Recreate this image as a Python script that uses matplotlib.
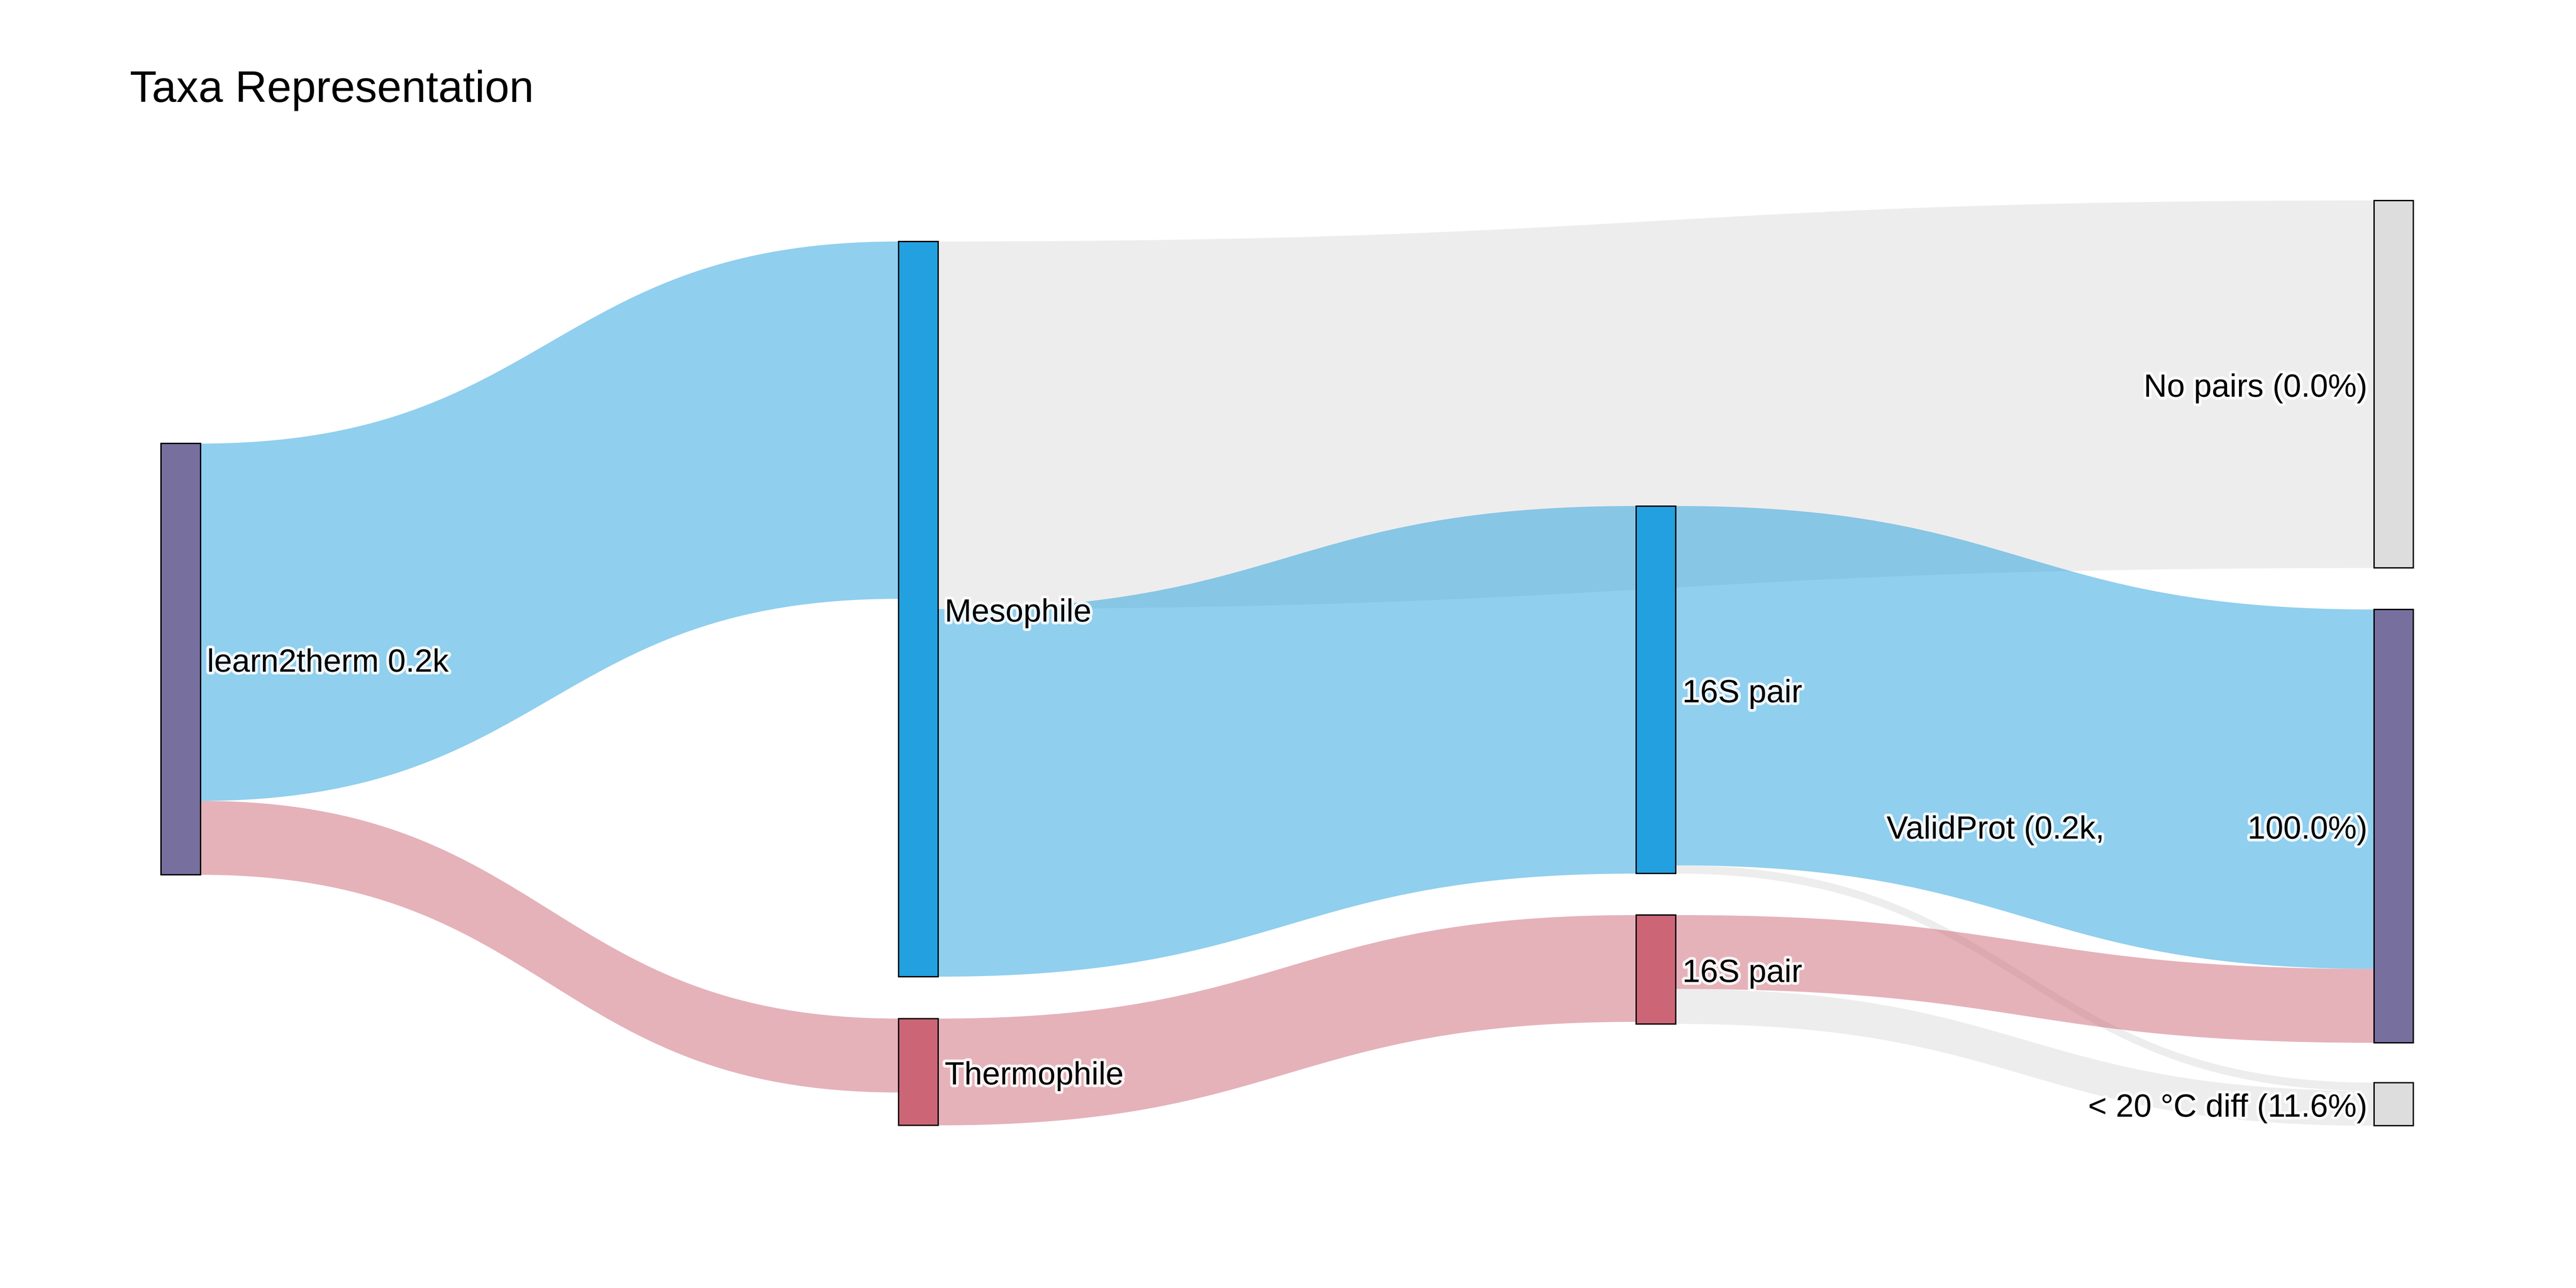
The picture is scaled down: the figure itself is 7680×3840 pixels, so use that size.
import numpy as np
import matplotlib
matplotlib.use("Agg")
import matplotlib.pyplot as plt
from matplotlib.path import Path
from matplotlib.patches import PathPatch, Rectangle
import matplotlib.patheffects as pe

plt.rcParams['font.family'] = ['Liberation Sans', 'DejaVu Sans']

# nodes
node_names = ["learn2therm", "Mesophile", "Thermophile", "16S pair (meso)", "16S pair (thermo)",
              "No pairs", "ValidProt", "< 20 °C diff"]
node_labels = ["learn2therm 0.2k", "Mesophile", "Thermophile", "16S pair", "16S pair",
               "No pairs (0.0%)", "100.0%)", "< 20 °C diff (11.6%)"]
node_colors = ["#77709f", "#22a0df", "#cc6677", "#22a0df", "#cc6677",
               "#dddddd", "#77709f", "#dddddd"]
node_column = [0, 1, 1, 2, 2, 3, 3, 3]

# links
link_source = [0, 0, 1, 1, 2, 3, 3, 4, 4]
link_target = [1, 2, 5, 3, 4, 6, 7, 6, 7]
link_value = [174, 36, 179, 179, 52, 175, 4, 36, 17]
link_colors = ["#22a0df", "#cc6677", "#dddddd", "#22a0df", "#cc6677",
               "#22a0df", "#dddddd", "#cc6677", "#dddddd"]

# layout (figure pixels of a 1568x784 canvas)
W, H = 1568, 784
col_x = [98, 547, 996, 1445]
node_w = 24
px_per_unit = 1.25
node_top = [270, 147, 620, 308, 557, 122, 371, 659]

n = len(node_names)
inflow = np.zeros(n)
outflow = np.zeros(n)
for s, t, v in zip(link_source, link_target, link_value):
    outflow[s] += v
    inflow[t] += v
node_h = np.maximum(inflow, outflow) * px_per_unit

fig = plt.figure(figsize=(16, 8), dpi=480)
ax = fig.add_axes([0, 0, 1, 1])
ax.set_xlim(0, W)
ax.set_ylim(H, 0)
ax.axis('off')

# links, stacked top-down at each node in link order
out_off = np.array(node_top, dtype=float)
in_off = np.array(node_top, dtype=float)
for s, t, v, c in zip(link_source, link_target, link_value, link_colors):
    w = v * px_per_unit
    x0 = col_x[node_column[s]] + node_w
    x1 = col_x[node_column[t]]
    xm = (x0 + x1) / 2
    y0t, y0b = out_off[s], out_off[s] + w
    y1t, y1b = in_off[t], in_off[t] + w
    out_off[s] += w
    in_off[t] += w
    verts = [(x0, y0t), (xm, y0t), (xm, y1t), (x1, y1t),
             (x1, y1b), (xm, y1b), (xm, y0b), (x0, y0b), (x0, y0t)]
    codes = [Path.MOVETO, Path.CURVE4, Path.CURVE4, Path.CURVE4,
             Path.LINETO, Path.CURVE4, Path.CURVE4, Path.CURVE4, Path.CLOSEPOLY]
    ax.add_patch(PathPatch(Path(verts, codes), facecolor=c, alpha=0.5, lw=0))

halo = [pe.withStroke(linewidth=2.5, foreground='white', alpha=0.85)]

# nodes and labels
for i in range(n):
    x = col_x[node_column[i]]
    ax.add_patch(Rectangle((x, node_top[i]), node_w, node_h[i],
                           facecolor=node_colors[i], edgecolor='black', lw=0.6))
    yc = node_top[i] + node_h[i] / 2 + 2.5
    if node_column[i] < 3:
        ax.text(x + node_w + 4, yc, node_labels[i], ha='left', va='center',
                fontsize=14.4, path_effects=halo)
    else:
        ax.text(x - 4, yc, node_labels[i], ha='right', va='center',
                fontsize=14.4, path_effects=halo)
        if node_names[i] == "ValidProt":
            ax.text(x - 164, yc, "ValidProt (0.2k,", ha='right', va='center',
                    fontsize=14.4, path_effects=halo)

fig.text(79 / W, 1 - 62 / H, "Taxa Representation", fontsize=19.7,
         ha='left', va='baseline')

fig.savefig("out.png", dpi=480, facecolor='white')
